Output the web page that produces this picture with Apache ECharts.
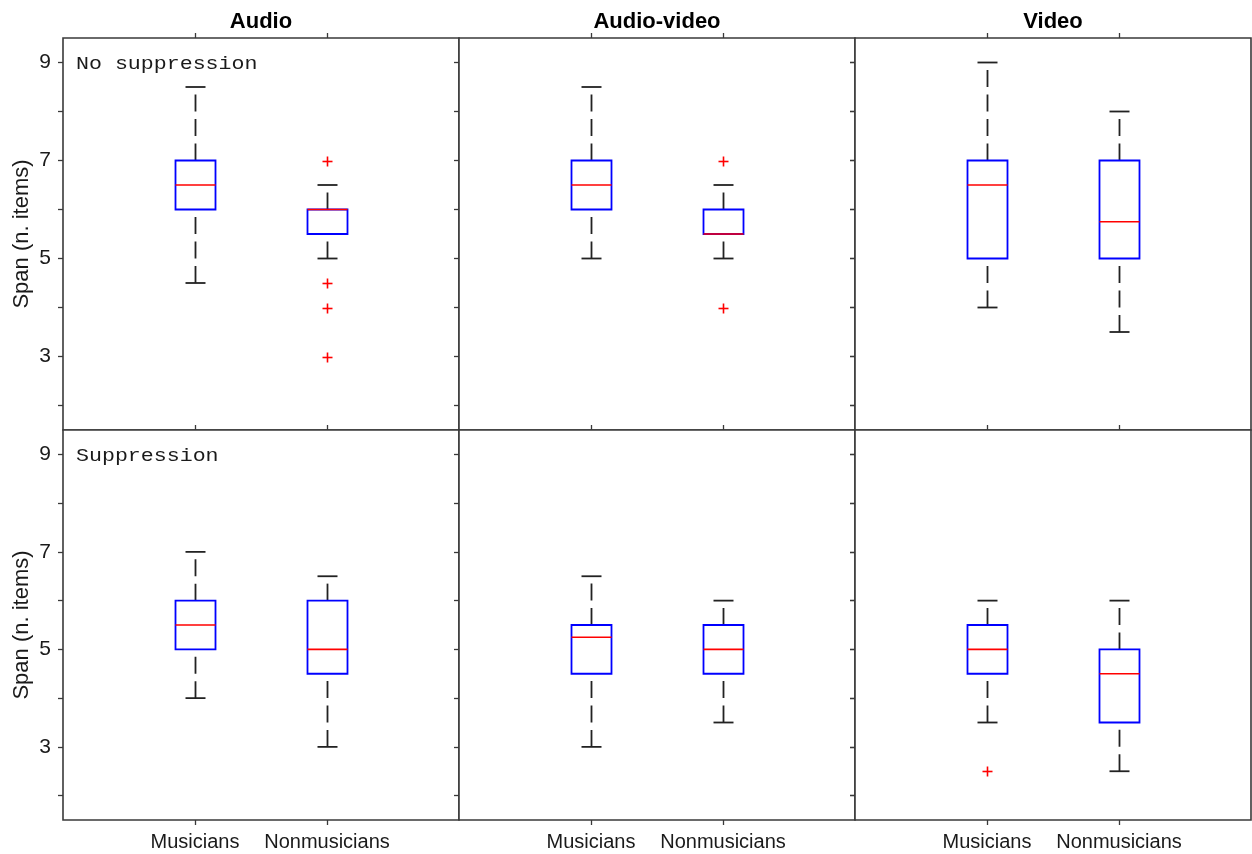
<!DOCTYPE html>
<html>
<head>
<meta charset="utf-8">
<title>Span by group, modality and suppression</title>
<script src="https://cdn.jsdelivr.net/npm/echarts@6/dist/echarts.min.js"></script>
<style>
  html, body { margin: 0; padding: 0; background: #fff; }
  #chart { width: 1252px; height: 854px; }
</style>
</head>
<body>
<div id="chart"></div>
<script>
// Groups on the x axis of every panel
const groups = ['Musicians', 'Nonmusicians'];
// Column headers and row annotations
const modalities = ['Audio', 'Audio-video', 'Video'];
const conditions = ['No suppression', 'Suppression'];
const yLabel = 'Span (n. items)';

// Box statistics per group: [lower whisker, Q1, median, Q3, upper whisker]
const audioNoSupp      = [[4.5, 6, 6.5, 7, 8.5], [5, 5.5, 6, 6, 6.5]];
const audioVideoNoSupp = [[5, 6, 6.5, 7, 8.5],   [5, 5.5, 5.5, 6, 6.5]];
const videoNoSupp      = [[4, 5, 6.5, 7, 9],     [3.5, 5, 5.75, 7, 8]];
const audioSupp        = [[4, 5, 5.5, 6, 7],     [3, 4.5, 5, 6, 6.5]];
const audioVideoSupp   = [[3, 4.5, 5.25, 5.5, 6.5], [3.5, 4.5, 5, 5.5, 6]];
const videoSupp        = [[3.5, 4.5, 5, 5.5, 6], [2.5, 3.5, 4.5, 5, 6]];

// Outliers per panel: [group index, value]
const audioNoSuppOut      = [[1, 7], [1, 4.5], [1, 4], [1, 3]];
const audioVideoNoSuppOut = [[1, 7], [1, 4]];
const videoNoSuppOut      = [];
const audioSuppOut        = [];
const audioVideoSuppOut   = [];
const videoSuppOut        = [[0, 2.5]];

// Y axis ticks and labels
const yTicks = [2, 3, 4, 5, 6, 7, 8, 9];
const yTickLabels = [3, 5, 7, 9];

const panels = [
  { row: 0, col: 0, stats: audioNoSupp,      out: audioNoSuppOut },
  { row: 0, col: 1, stats: audioVideoNoSupp, out: audioVideoNoSuppOut },
  { row: 0, col: 2, stats: videoNoSupp,      out: videoNoSuppOut },
  { row: 1, col: 0, stats: audioSupp,        out: audioSuppOut },
  { row: 1, col: 1, stats: audioVideoSupp,   out: audioVideoSuppOut },
  { row: 1, col: 2, stats: videoSupp,        out: videoSuppOut }
];

const FRAME = '#3a3a3a';
const WHISKER = '#222222';
const BOX = '#0000ff';
const MEDIAN = '#ff0000';
const OUTLIER = '#ff0000';
const TEXT = '#1a1a1a';

const plotLeft = 63, colW = 396;
const rowTop = [38, 430], rowH = [392, 390];

const chart = echarts.init(document.getElementById('chart'), null, { renderer: 'canvas' });

const grids = [], xAxes = [], yAxes = [], series = [];

function renderBox(params, api) {
  const x = api.value(0);
  const lo = api.coord([x, api.value(1)]);
  const q1 = api.coord([x, api.value(2)]);
  const md = api.coord([x, api.value(3)]);
  const q3 = api.coord([x, api.value(4)]);
  const hi = api.coord([x, api.value(5)]);
  const cx = Math.round(lo[0]) + 0.5;
  const boxHalf = 20, capHalf = 10;
  const wStyle = { stroke: WHISKER, lineWidth: 1.8, lineDash: [17, 7.5] };
  const capStyle = { stroke: WHISKER, lineWidth: 1.8 };
  return {
    type: 'group',
    children: [
      // whiskers are drawn from the lower end upwards
      { type: 'line', shape: { x1: cx, y1: q3[1], x2: cx, y2: hi[1] }, style: wStyle },
      { type: 'line', shape: { x1: cx, y1: lo[1], x2: cx, y2: q1[1] }, style: wStyle },
      { type: 'line', shape: { x1: cx - capHalf, y1: hi[1], x2: cx + capHalf, y2: hi[1] }, style: capStyle },
      { type: 'line', shape: { x1: cx - capHalf, y1: lo[1], x2: cx + capHalf, y2: lo[1] }, style: capStyle },
      { type: 'rect', shape: { x: cx - boxHalf, y: q3[1], width: boxHalf * 2, height: q1[1] - q3[1] },
        style: { fill: null, stroke: BOX, lineWidth: 1.8 } },
      { type: 'line', shape: { x1: cx - boxHalf, y1: md[1], x2: cx + boxHalf, y2: md[1] },
        style: { stroke: MEDIAN, lineWidth: 1.6 } }
    ]
  };
}

function renderOutlier(params, api) {
  const p = api.coord([api.value(0), api.value(1)]);
  const cx = Math.round(p[0]) + 0.5, cy = Math.round(p[1]) + 0.5, h = 5;
  const st = { stroke: OUTLIER, lineWidth: 1.6 };
  return {
    type: 'group',
    children: [
      { type: 'line', shape: { x1: cx - h, y1: cy, x2: cx + h, y2: cy }, style: st },
      { type: 'line', shape: { x1: cx, y1: cy - h, x2: cx, y2: cy + h }, style: st }
    ]
  };
}

panels.forEach((p, i) => {
  grids.push({
    left: plotLeft + p.col * colW,
    top: rowTop[p.row],
    width: colW,
    height: rowH[p.row],
    show: true,
    borderColor: FRAME,
    borderWidth: 1.6,
    backgroundColor: '#fff'
  });

  const isBottom = p.row === 1;
  const isFirstCol = p.col === 0;

  // bottom x axis
  xAxes.push({
    gridIndex: i, type: 'value', position: 'bottom', min: 0, max: 3,
    axisLine: { show: false },
    splitLine: { show: false },
    axisTick: { show: isBottom, inside: false, length: 5, customValues: [1, 2],
      lineStyle: { color: FRAME, width: 1.3 } },
    axisLabel: {
      show: isBottom, customValues: [1, 2], margin: 12,
      formatter: v => groups[Math.round(v) - 1] || '',
      fontFamily: 'Liberation Sans, Arial, sans-serif', fontSize: 20, color: TEXT
    }
  });
  // top x axis (ticks only)
  xAxes.push({
    gridIndex: i, type: 'value', position: 'top', min: 0, max: 3,
    axisLine: { show: false },
    splitLine: { show: false },
    axisTick: { show: true, inside: false, length: 5, customValues: [1, 2],
      lineStyle: { color: FRAME, width: 1.3 } },
    axisLabel: { show: false }
  });
  // left y axis
  yAxes.push({
    gridIndex: i, type: 'value', position: 'left', min: 1.5, max: 9.5,
    axisLine: { show: false },
    splitLine: { show: false },
    axisTick: { show: true, inside: false, length: 5, customValues: yTicks,
      lineStyle: { color: FRAME, width: 1.3 } },
    axisLabel: {
      show: isFirstCol, customValues: yTickLabels, margin: 12,
      fontFamily: 'Liberation Sans, Arial, sans-serif', fontSize: 21, color: TEXT
    },
    name: isFirstCol ? yLabel : '',
    nameLocation: 'middle',
    nameGap: 30,
    nameRotate: 90,
    nameTextStyle: { fontFamily: 'Liberation Sans, Arial, sans-serif', fontSize: 22, color: TEXT }
  });
  const yIdx = yAxes.length - 1;
  // right y axis on the last column (inward ticks)
  if (p.col === 2) {
    yAxes.push({
      gridIndex: i, type: 'value', position: 'right', min: 1.5, max: 9.5,
      axisLine: { show: false },
      splitLine: { show: false },
      axisTick: { show: true, inside: true, length: 5, customValues: yTicks,
        lineStyle: { color: FRAME, width: 1.3 } },
      axisLabel: { show: false }
    });
  }

  series.push({
    type: 'custom',
    xAxisIndex: i * 2,
    yAxisIndex: yIdx,
    renderItem: renderBox,
    data: p.stats.map((s, g) => [g + 1].concat(s)),
    z: 3
  });
  if (p.out.length) {
    series.push({
      type: 'custom',
      xAxisIndex: i * 2,
      yAxisIndex: yIdx,
      renderItem: renderOutlier,
      data: p.out.map(o => [o[0] + 1, o[1]]),
      z: 4
    });
  }
});

// Column headers and row annotations
const graphics = [];
modalities.forEach((m, c) => {
  graphics.push({
    type: 'text',
    x: plotLeft + c * colW + colW / 2,
    y: 22,
    style: {
      text: m, fill: '#000',
      font: 'bold 22px "Liberation Sans", Arial, sans-serif',
      textAlign: 'center', textVerticalAlign: 'middle'
    }
  });
});
conditions.forEach((t, r) => {
  graphics.push({
    type: 'text',
    x: 76,
    y: r === 0 ? 64 : 456,
    scaleX: 1.2,
    style: {
      text: t, fill: TEXT,
      font: '18px "Liberation Mono", "Courier New", monospace',
      textAlign: 'left', textVerticalAlign: 'middle'
    }
  });
});

chart.setOption({
  animation: false,
  backgroundColor: '#fff',
  grid: grids,
  xAxis: xAxes,
  yAxis: yAxes,
  series: series,
  graphic: graphics
});
</script>
</body>
</html>
